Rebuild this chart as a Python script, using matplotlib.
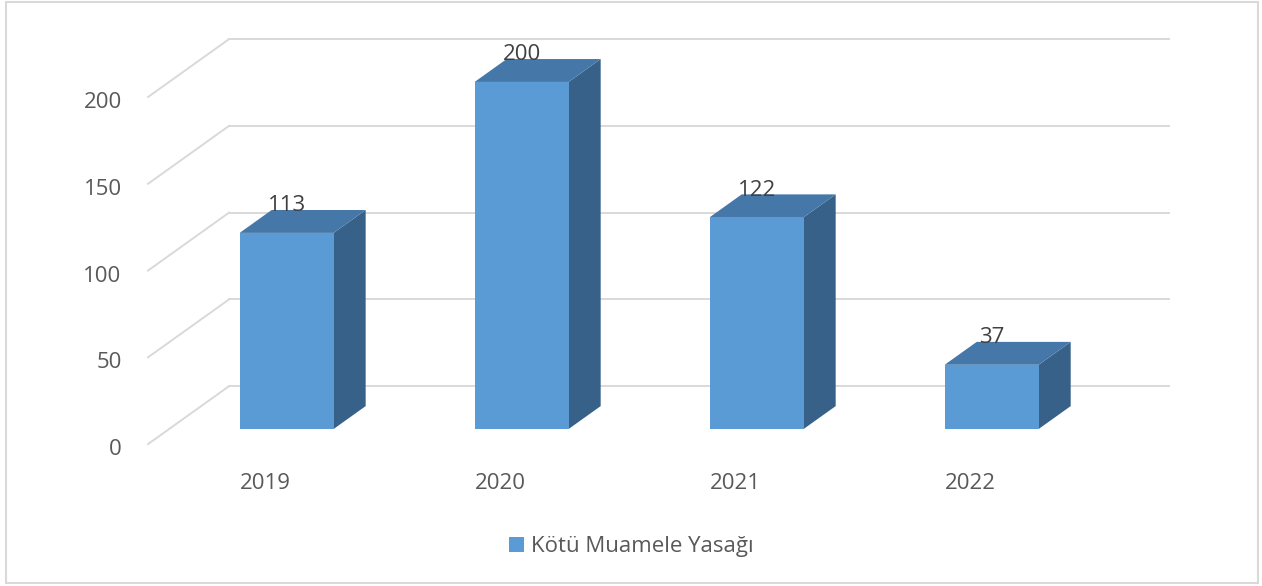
import matplotlib.pyplot as plt
from matplotlib.patches import Polygon, Rectangle

# data
years = ["2019", "2020", "2021", "2022"]
values = [113, 200, 122, 37]
yticks = [0, 50, 100, 150, 200]
series_name = "Kötü Muamele Yasağı"

plt.rcParams['font.family'] = ['Open Sans', 'DejaVu Sans']

front_c = '#5b9bd5'
top_c = '#4577a8'
side_c = '#386189'
grid_c = '#d9d9d9'
text_c = '#595959'

# pseudo 3d depth (in data units) and where the bars sit in that depth
DX, DY = 0.345, 33.4
f1, f2 = 0.26, 0.655
w = 0.4

fig = plt.figure(figsize=(12.62, 5.86), dpi=100)
ax = fig.add_axes([0, 0, 1, 1])
ax.set_xlim(-1.13, 4.24)
ax.set_ylim(-81.8, 255.9)
ax.axis('off')

# border of the chart area
fig.patches.append(Rectangle((0.005, 0.005), 0.992, 0.991, transform=fig.transFigure,
                             fill=False, edgecolor=grid_c, linewidth=1.5))

x0, x1 = -0.5, len(years) - 0.5
for t in yticks:
    ax.plot([x0, x0 + DX], [t, t + DY], color=grid_c, lw=1.4, zorder=1)
    ax.plot([x0 + DX, x1 + DX], [t + DY, t + DY], color=grid_c, lw=1.4, zorder=1)
    ax.annotate(str(t), (x0, t), xytext=(-19, -4), textcoords='offset points',
                ha='right', va='center', fontsize=16, color=text_c)

for i, v in enumerate(values):
    l = i - w / 2 + f1 * DX
    r = i + w / 2 + f1 * DX
    b = f1 * DY
    ddx = (f2 - f1) * DX
    ddy = (f2 - f1) * DY
    side = [(r, b), (r + ddx, b + ddy), (r + ddx, b + v + ddy), (r, b + v)]
    top = [(l, b + v), (r, b + v), (r + ddx, b + v + ddy), (l + ddx, b + v + ddy)]
    ax.add_patch(Polygon(side, closed=True, facecolor=side_c, edgecolor='none', zorder=3))
    ax.add_patch(Polygon(top, closed=True, facecolor=top_c, edgecolor='none', zorder=3))
    ax.add_patch(Rectangle((l, b), r - l, v, facecolor=front_c, edgecolor='none', zorder=4))
    ax.annotate(str(v), ((l + r) / 2, b + v), xytext=(0, 12), textcoords='offset points',
                ha='center', va='bottom', fontsize=16, color='#404040', zorder=5)
    ax.annotate(years[i], (i, 0), xytext=(0, -28.5), textcoords='offset points',
                ha='center', va='center', fontsize=16, color=text_c)

# legend
ax.legend(handles=[Rectangle((0, 0), 1, 1, facecolor=front_c)], labels=[series_name],
          loc='center', bbox_to_anchor=(0.5, 0.067), frameon=False, fontsize=16,
          handlelength=0.7, handleheight=0.7, handletextpad=0.3, labelcolor=text_c)

fig.savefig('out.png', dpi=100)
